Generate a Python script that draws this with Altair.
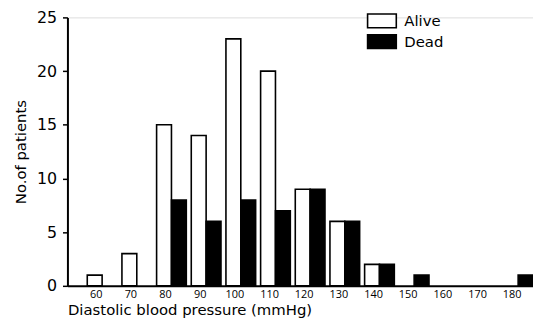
import altair as alt
import pandas as pd

categories = ["60", "70", "80", "90", "100", "110", "120", "130", "140", "150", "160", "170", "180"]
alive = [1, 3, 15, 14, 23, 20, 9, 6, 2, 0, 0, 0, 0]
dead = [0, 0, 8, 6, 8, 7, 9, 6, 2, 1, 0, 0, 1]

rows = []
for c, a, d in zip(categories, alive, dead):
    rows.append({"bp": c, "status": "Alive", "n": a})
    rows.append({"bp": c, "status": "Dead", "n": d})
df = pd.DataFrame(rows)

FONT = "DejaVu Sans"

chart = alt.Chart(df).transform_filter(alt.datum.n > 0).mark_bar(
    stroke="black", strokeWidth=1.6
).encode(
    x=alt.X("bp:N", sort=categories,
            scale=alt.Scale(domain=categories, paddingInner=0.143, paddingOuter=0.286, align=1),
            axis=alt.Axis(title="Diastolic blood pressure (mmHg)", labelAngle=0, ticks=False,
                          labelPadding=3, labelFontSize=11, labelFont="Open Sans", labelOffset=-6,
                          titleFontSize=15, titleFontWeight="normal", titleAnchor="start",
                          titlePadding=3, domainWidth=2, domainColor="black",
                          labelColor="black", titleColor="black")),
    xOffset=alt.XOffset("status:N", scale=alt.Scale(domain=["Alive", "Dead"], paddingInner=0, paddingOuter=0)),
    y=alt.Y("n:Q", scale=alt.Scale(domain=[0, 25], nice=False),
            axis=alt.Axis(title="No.of patients", values=[0, 5, 10, 15, 20, 25], grid=False,
                          tickSize=5, tickWidth=1.5, tickColor="black", labelFontSize=16,
                          labelPadding=6, titleFontSize=15, titleFontWeight="normal",
                          titlePadding=8, domainWidth=2, domainColor="black",
                          labelColor="black", titleColor="black")),
    fill=alt.Fill("status:N", scale=alt.Scale(domain=["Alive", "Dead"], range=["white", "black"]),
                  legend=alt.Legend(title=None, orient="none", legendX=309, legendY=-5,
                                    symbolType="M-2,-0.96H2V0.96H-2Z", symbolSize=210,
                                    symbolStrokeColor="black", symbolStrokeWidth=1.6,
                                    labelFontSize=15, labelColor="black", rowPadding=0,
                                    labelOffset=14)),
).properties(
    width=470, height=271,
    autosize=alt.AutoSizeParams(type="none"),
    padding={"left": 60, "top": 8, "right": 0, "bottom": 33},
).configure_view(stroke=None).configure(font=FONT)

chart.save("out.html", embed_options={"renderer": "svg", "actions": False})
